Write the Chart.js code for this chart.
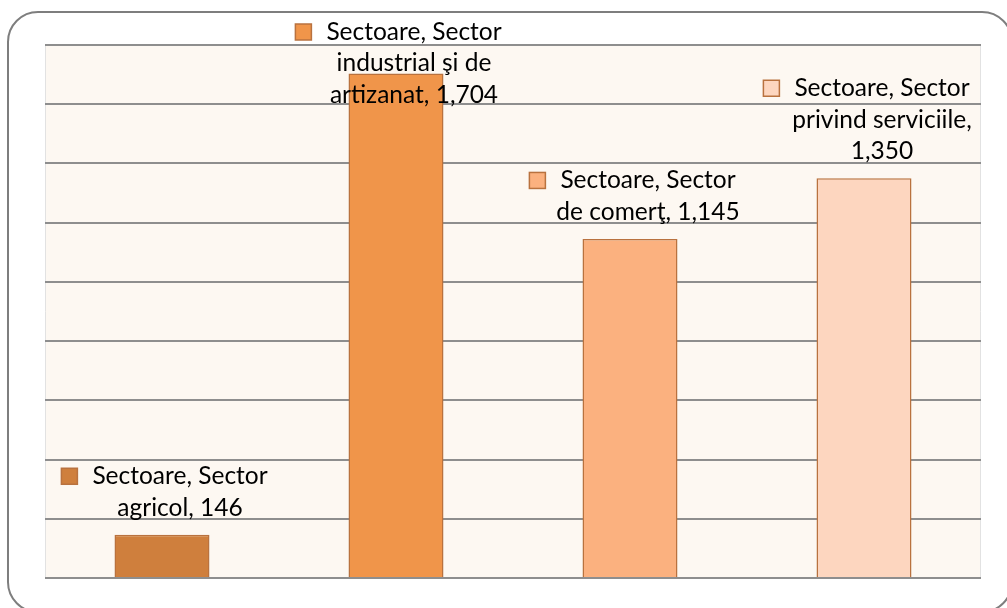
<!DOCTYPE html>
<html>
<head>
<meta charset="utf-8">
<script src="https://cdn.jsdelivr.net/npm/chart.js@4/dist/chart.umd.min.js"></script>
<style>
    html, body { margin: 0; padding: 0; background: #ffffff; }
    #wrap { width: 1007px; height: 608px; }
</style>
</head>
<body>
<div id="wrap"><canvas id="sectorChart"></canvas></div>
<script>
// === Data ===
const seriesName = "Sectoare";
const categories = ["Sector agricol", "Sector industrial şi de artizanat", "Sector de comerţ", "Sector privind serviciile"];
const values = [146, 1704, 1145, 1350];
const valueLabels = ["146", "1,704", "1,145", "1,350"];
// how the data labels wrap in the picture
const labelLines = [
    ["Sectoare, Sector", "agricol, 146"],
    ["Sectoare, Sector", "industrial şi de", "artizanat, 1,704"],
    ["Sectoare, Sector", "de comerţ, 1,145"],
    ["Sectoare, Sector", "privind serviciile,", "1,350"]
];
const barColors = ['#CF7F3D', '#F0954A', '#FBB17F', '#FDD6BF'];
const barBorder = '#B9723F';

// background of the plot + rounded frame
const framePlugin = {
    id: 'frame',
    beforeDraw(chart) {
        const { ctx, chartArea } = chart;
        ctx.save();
        ctx.fillStyle = '#FDF8F2';
        ctx.fillRect(chartArea.left, chartArea.top, chartArea.right - chartArea.left, chartArea.bottom - chartArea.top);
        ctx.strokeStyle = '#E2E2E2';
        ctx.lineWidth = 1;
        ctx.beginPath();
        ctx.moveTo(chartArea.left + 0.5, chartArea.top);
        ctx.lineTo(chartArea.left + 0.5, chartArea.bottom);
        ctx.moveTo(chartArea.right - 0.5, chartArea.top);
        ctx.lineTo(chartArea.right - 0.5, chartArea.bottom);
        ctx.stroke();
        // outer rounded border
        ctx.strokeStyle = '#7E7E7E';
        ctx.lineWidth = 2;
        ctx.beginPath();
        ctx.roundRect(8, 12, 1004, 600, 30);
        ctx.stroke();
        ctx.restore();
    }
};

// data labels with legend key, drawn above each bar
const labelPlugin = {
    id: 'barLabels',
    afterDatasetsDraw(chart) {
        const { ctx } = chart;
        const meta = chart.getDatasetMeta(0);
        const lineH = 31.5;
        ctx.save();
        ctx.font = '24.5px Lato, "Liberation Sans", sans-serif';
        ctx.fillStyle = '#000000';
        ctx.textAlign = 'center';
        ctx.textBaseline = 'middle';
        meta.data.forEach((bar, i) => {
            const lines = labelLines[i];
            let lastY = bar.y - 27;
            let firstY = lastY - (lines.length - 1) * lineH;
            if (firstY < 32) firstY = 32;
            const cx = bar.x + 18;
            lines.forEach((line, j) => {
                ctx.fillText(line, cx, firstY + j * lineH);
            });
            const w = ctx.measureText(lines[0]).width;
            const keyX = cx - w / 2 - 31;
            ctx.fillStyle = barColors[i];
            ctx.strokeStyle = barBorder;
            ctx.lineWidth = 1.5;
            ctx.fillRect(keyX, firstY - 8, 16, 16);
            ctx.strokeRect(keyX, firstY - 8, 16, 16);
            ctx.fillStyle = '#000000';
        });
        ctx.restore();
    }
};

const ctx = document.getElementById('sectorChart').getContext('2d');
new Chart(ctx, {
    type: 'bar',
    data: {
        labels: categories,
        datasets: [{
            label: seriesName,
            data: values,
            backgroundColor: barColors,
            borderColor: barBorder,
            borderWidth: 1.5,
            barPercentage: 0.406,
            categoryPercentage: 1.0
        }]
    },
    options: {
        responsive: true,
        maintainAspectRatio: false,
        animation: false,
        layout: {
            padding: { left: 45, right: 26, top: 45, bottom: 30 }
        },
        scales: {
            x: {
                display: false
            },
            y: {
                min: 0,
                max: 1800,
                ticks: { display: false, stepSize: 200 },
                grid: { color: '#8E8E8E', lineWidth: 2, drawTicks: false },
                border: { display: false }
            }
        },
        plugins: {
            legend: { display: false },
            tooltip: { enabled: false }
        }
    },
    plugins: [framePlugin, labelPlugin]
});
</script>
</body>
</html>
